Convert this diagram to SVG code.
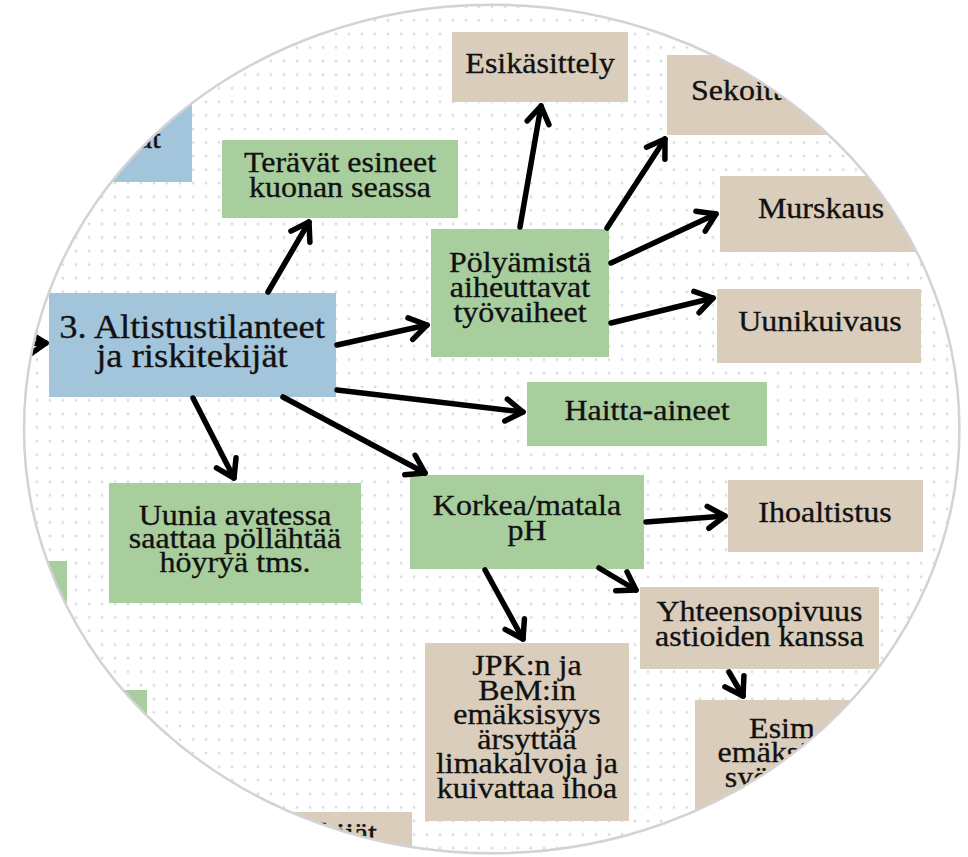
<svg xmlns="http://www.w3.org/2000/svg" width="968" height="857" viewBox="0 0 968 857">
<defs>
<style>
.t { font-family: 'Liberation Serif', Tinos, 'Times New Roman', Times, 'DejaVu Serif', serif; font-size: 32px; fill: #111; stroke: #111; stroke-width: 0.35; text-anchor: middle; }
.tm { font-size: 36.5px; }
.s { text-anchor: start; }
.e { text-anchor: end; }
.g { fill: #a8ce9e; }
.b { fill: #a3c5dc; }
.n { fill: #dacdbc; }
#connectors path { fill: none; stroke: #000; stroke-width: 5.5; stroke-linecap: round; marker-end: url(#arr); }
</style>
<clipPath id="clip"><ellipse cx="491.7" cy="429" rx="467.7" ry="424.3"/></clipPath>
<pattern id="dots" patternUnits="userSpaceOnUse" x="4.5" y="0" width="13" height="13.57">
<path d="M5,6.8 H8 M6.5,5.3 V8.3" stroke="#cdd1dc" stroke-width="1"/>
</pattern>
<marker id="arr" markerUnits="userSpaceOnUse" markerWidth="40" markerHeight="40" viewBox="-30 -20 40 40" refX="0" refY="0" orient="auto" overflow="visible">
<path d="M-17,-11 L0,0 L-17,11" fill="none" stroke="#000" stroke-width="5.5" stroke-linecap="round" stroke-linejoin="round"/>
</marker>
</defs>
<rect width="968" height="857" fill="#fff"/>
<g clip-path="url(#clip)" font-family="'Liberation Serif', Tinos, 'Times New Roman', Times, 'DejaVu Serif', serif">
<rect width="968" height="857" fill="url(#dots)"/>

<g id="node-top-left">
<rect class="b" x="-10" y="40" width="202" height="142"/>
<text class="t e" font-family="Liberation Serif, serif" transform="translate(161,148) scale(1,0.92)">at</text>
</g>
<g id="node-teravat">
<rect class="g" x="222" y="140" width="236" height="78"/>
<text class="t" font-family="Liberation Serif, serif" transform="translate(340,172) scale(1,0.92)"><tspan x="0" y="0">Terävät esineet</tspan><tspan x="0" dy="27.6">kuonan seassa</tspan></text>
</g>
<g id="node-esikasittely">
<rect class="n" x="452" y="32" width="176" height="70"/>
<text class="t" font-family="Liberation Serif, serif" transform="translate(540,73) scale(1,0.92)">Esikäsittely</text>
</g>
<g id="node-sekoittaminen">
<rect class="n" x="667" y="55" width="240" height="80"/>
<text class="t s" font-family="Liberation Serif, serif" transform="translate(691,100) scale(1,0.92)">Sekoittaminen</text>
</g>
<g id="node-murskaus">
<rect class="n" x="720" y="176" width="202" height="76"/>
<text class="t" font-family="Liberation Serif, serif" transform="translate(821,218) scale(1,0.92)">Murskaus</text>
</g>
<g id="node-polyamista">
<rect class="g" x="431" y="229" width="178" height="128"/>
<text class="t" font-family="Liberation Serif, serif" transform="translate(520,272) scale(1,0.92)"><tspan x="0" y="0">Pölyämistä</tspan><tspan x="0" dy="27.4">aiheuttavat</tspan><tspan x="0" dy="27.4">työvaiheet</tspan></text>
</g>
<g id="node-uunikuivaus">
<rect class="n" x="717" y="289" width="204" height="74"/>
<text class="t" font-family="Liberation Serif, serif" transform="translate(820,331) scale(1,0.92)">Uunikuivaus</text>
</g>
<g id="node-haitta-aineet">
<rect class="g" x="527" y="382" width="240" height="64"/>
<text class="t" font-family="Liberation Serif, serif" transform="translate(647,420) scale(1,0.92)">Haitta-aineet</text>
</g>
<g id="node-main">
<rect class="b" x="49" y="293" width="287" height="104"/>
<text class="t tm" font-family="Liberation Serif, serif" transform="translate(192,338) scale(1,0.92)"><tspan x="0" y="0">3. Altistustilanteet</tspan><tspan x="0" dy="31.5">ja riskitekijät</tspan></text>
</g>
<g id="node-uunia">
<rect class="g" x="109" y="483" width="252" height="120"/>
<text class="t" font-family="Liberation Serif, serif" transform="translate(235,525) scale(1,0.92)"><tspan x="0" y="0">Uunia avatessa</tspan><tspan x="0" dy="25.4">saattaa pöllähtää</tspan><tspan x="0" dy="25.4">höyryä tms.</tspan></text>
</g>
<g id="node-korkea">
<rect class="g" x="410" y="475" width="234" height="94"/>
<text class="t" font-family="Liberation Serif, serif" transform="translate(527,515) scale(1,0.92)"><tspan x="0" y="0">Korkea/matala</tspan><tspan x="0" dy="27.2">pH</tspan></text>
</g>
<g id="node-ihoaltistus">
<rect class="n" x="728" y="480" width="195" height="72"/>
<text class="t" font-family="Liberation Serif, serif" transform="translate(825,522) scale(1,0.92)">Ihoaltistus</text>
</g>
<g id="node-yhteensopivuus">
<rect class="n" x="640" y="587" width="239" height="82"/>
<text class="t" font-family="Liberation Serif, serif" transform="translate(759.5,621) scale(1,0.92)"><tspan x="0" y="0">Yhteensopivuus</tspan><tspan x="0" dy="27.2">astioiden kanssa</tspan></text>
</g>
<g id="node-jpk">
<rect class="n" x="425" y="643" width="204" height="178"/>
<text class="t" font-family="Liberation Serif, serif" transform="translate(527,675) scale(1,0.92)"><tspan x="0" y="0">JPK:n ja</tspan><tspan x="0" dy="26.7">BeM:in</tspan><tspan x="0" dy="26.7">emäksisyys</tspan><tspan x="0" dy="26.7">ärsyttää</tspan><tspan x="0" dy="26.7">limakalvoja ja</tspan><tspan x="0" dy="26.7">kuivattaa ihoa</tspan></text>
</g>
<g id="node-esim">
<rect class="n" x="695" y="700" width="182" height="140"/>
<text class="t" font-family="Liberation Serif, serif" transform="translate(786,738) scale(1,0.92)"><tspan x="0" y="0">Esim.</tspan><tspan x="0" dy="26.6">emäksinen</tspan><tspan x="0" dy="26.6">syövyttää</tspan><tspan x="0" dy="26.6">foliota</tspan></text>
</g>
<g id="node-tekijat">
<rect class="n" x="270" y="812" width="142" height="60"/>
<text class="t e" font-family="Liberation Serif, serif" transform="translate(377,843) scale(1,0.92)">tekijät</text>
</g>
<g id="node-left-1">
<rect class="g" x="-10" y="561" width="77" height="150"/>
</g>
<g id="node-left-2">
<rect class="g" x="-10" y="690" width="157" height="100"/>
</g>

<g id="connectors">
<path d="M-30,346 L46,343"/>
<path d="M268,292 L309,222"/>
<path d="M337,345 L427,325"/>
<path d="M337,390 L523,412"/>
<path d="M283,397 L425,473"/>
<path d="M193,398 L234,478"/>
<path d="M520,227 L541,106"/>
<path d="M607,228 L665,139"/>
<path d="M611,263 L716,214"/>
<path d="M611,323 L713,298"/>
<path d="M646,522 L725,516"/>
<path d="M485,570 L523,639"/>
<path d="M599,568 L636,590"/>
<path d="M729,672 L743,696"/>
</g>
</g>
<ellipse cx="491.7" cy="429" rx="467.7" ry="424.3" fill="none" stroke="#d3d3d3" stroke-width="2.5"/>
</svg>
